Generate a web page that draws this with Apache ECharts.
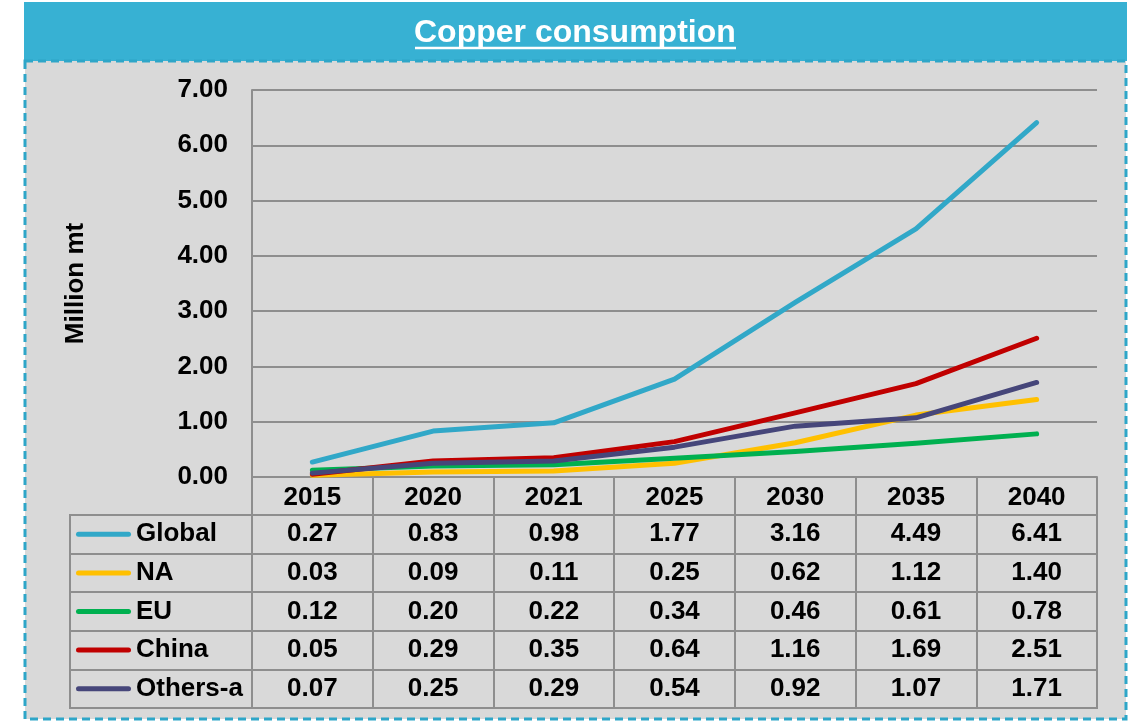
<!DOCTYPE html>
<html>
<head>
<meta charset="utf-8">
<script src="https://cdn.jsdelivr.net/npm/echarts@6/dist/echarts.min.js"></script>
<style>
  html, body { margin: 0; padding: 0; background: #fff; }
  #main { width: 1133px; height: 723px; }
</style>
</head>
<body>
<div id="main"></div>
<script>
var years = ['2015', '2020', '2021', '2025', '2030', '2035', '2040'];
var names = ['Global', 'NA', 'EU', 'China', 'Others-a'];
var colors = ['#31a8c8', '#ffc000', '#00b050', '#c00000', '#46467a'];

var global = [0.27, 0.83, 0.98, 1.77, 3.16, 4.49, 6.41];
var na = [0.03, 0.09, 0.11, 0.25, 0.62, 1.12, 1.40];
var eu = [0.12, 0.20, 0.22, 0.34, 0.46, 0.61, 0.78];
var china = [0.05, 0.29, 0.35, 0.64, 1.16, 1.69, 2.51];
var others = [0.07, 0.25, 0.29, 0.54, 0.92, 1.07, 1.71];
var values = [global, na, eu, china, others];

var font = 'Liberation Sans, Arial, sans-serif';
var gridGray = '#8e8e8e';
var fs = 26;

var chart = echarts.init(document.getElementById('main'), null, { renderer: 'canvas' });

// legend key line in front of each row name
var rich = {
  t: { fontFamily: font, fontSize: fs, fontWeight: 'bold', color: '#000', padding: [0, 0, 0, 5] }
};
names.forEach(function (n, i) {
  rich['l' + i] = { width: 55, height: 5, backgroundColor: colors[i], borderRadius: 3 };
});

var lineSeries = names.map(function (n, i) {
  return {
    name: n,
    type: 'line',
    xAxisIndex: 0,
    yAxisIndex: 0,
    data: values[i],
    showSymbol: false,
    symbol: 'none',
    lineStyle: { width: 5, color: colors[i], cap: 'round', join: 'round' },
    itemStyle: { color: colors[i] },
    z: 3
  };
});

var tableData = [];
values.forEach(function (row, i) {
  row.forEach(function (v, j) {
    tableData.push([j, i, v]);
  });
});

var option = {
  animation: false,
  textStyle: { fontFamily: font },
  graphic: [
    {
      type: 'rect', z: -10, silent: true,
      shape: { x: 24, y: 2, width: 1103, height: 59 },
      style: { fill: '#37b1d3' }
    },
    {
      type: 'rect', z: -10, silent: true,
      shape: { x: 25, y: 61, width: 1101, height: 658 },
      style: { fill: '#d9d9d9', stroke: '#2ea6c8', lineWidth: 3, lineDash: [8, 5] }
    },
    {
      type: 'line', silent: true,
      shape: { x1: 415, y1: 48, x2: 736, y2: 48 },
      style: { stroke: '#fff', lineWidth: 2.5 }
    }
  ],
  title: {
    text: 'Copper consumption',
    left: 414,
    top: 17,
    padding: 0,
    textStyle: { color: '#fff', fontSize: 32, fontWeight: 'bold', fontFamily: font }
  },
  grid: [
    { left: 252, right: 36, top: 90, bottom: 246 },
    { left: 252, right: 36, top: 515, bottom: 15, show: true, borderColor: gridGray, borderWidth: 2, backgroundColor: 'transparent' },
    { left: 70, right: 881, top: 515, bottom: 15, show: true, borderColor: gridGray, borderWidth: 2, backgroundColor: 'transparent' }
  ],
  xAxis: [
    {
      gridIndex: 0,
      type: 'category',
      data: years,
      boundaryGap: true,
      axisLine: { show: true, lineStyle: { color: gridGray, width: 2 } },
      axisTick: { show: true, interval: 0, length: 38, lineStyle: { color: gridGray, width: 2 } },
      axisLabel: { interval: 0, margin: 8, color: '#000', fontSize: fs, fontWeight: 'bold', fontFamily: font }
    },
    {
      gridIndex: 1,
      type: 'category',
      data: years,
      boundaryGap: true,
      axisLine: { show: false },
      axisTick: { show: false },
      axisLabel: { show: false },
      splitLine: { show: true, interval: 0, lineStyle: { color: gridGray, width: 2 } }
    },
    {
      gridIndex: 2,
      type: 'category',
      data: [''],
      show: false
    }
  ],
  yAxis: [
    {
      gridIndex: 0,
      type: 'value',
      min: 0,
      max: 7,
      interval: 1,
      name: 'Million mt',
      nameLocation: 'middle',
      nameGap: 163,
      nameTextStyle: { color: '#000', fontSize: fs, fontWeight: 'bold', fontFamily: font },
      axisLine: { show: true, lineStyle: { color: gridGray, width: 2 } },
      axisTick: { show: false },
      axisLabel: {
        margin: 24, color: '#000', fontSize: fs, fontWeight: 'bold', fontFamily: font,
        formatter: function (v) { return v.toFixed(2); }
      },
      splitLine: { show: true, lineStyle: { color: gridGray, width: 2 } }
    },
    {
      gridIndex: 1,
      type: 'category',
      inverse: true,
      data: names,
      boundaryGap: true,
      axisLine: { show: false },
      axisTick: { show: false },
      axisLabel: {
        interval: 0,
        align: 'left',
        margin: 176,
        formatter: function (v, i) { return '{l' + i + '|}{t|' + v + '}'; },
        rich: rich
      },
      splitLine: { show: true, interval: 0, lineStyle: { color: gridGray, width: 2 } }
    },
    {
      gridIndex: 2,
      type: 'category',
      inverse: true,
      data: names,
      boundaryGap: true,
      axisLine: { show: false },
      axisTick: { show: false },
      axisLabel: { show: false },
      splitLine: { show: true, interval: 0, lineStyle: { color: gridGray, width: 2 } }
    }
  ],
  series: lineSeries.concat([
    {
      name: 'table',
      type: 'scatter',
      xAxisIndex: 1,
      yAxisIndex: 1,
      data: tableData,
      symbolSize: 1,
      itemStyle: { color: '#d9d9d9', opacity: 1 },
      emphasis: { disabled: true },
      label: {
        show: true,
        position: 'inside',
        color: '#000',
        opacity: 1,
        fontSize: fs,
        fontWeight: 'bold',
        fontFamily: font,
        formatter: function (p) { return p.value[2].toFixed(2); }
      }
    }
  ])
};

chart.setOption(option);
</script>
</body>
</html>
